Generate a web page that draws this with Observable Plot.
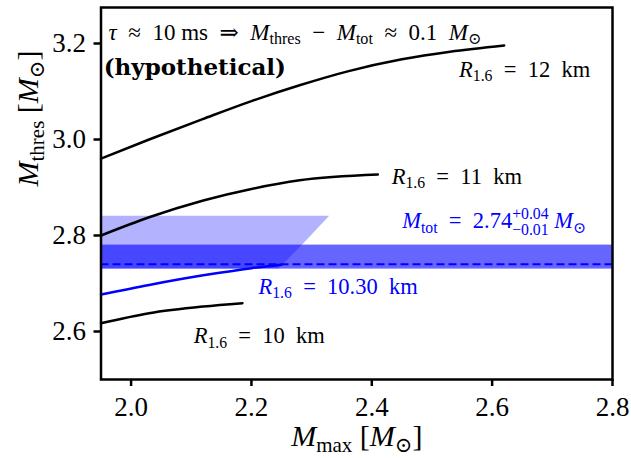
<!DOCTYPE html>
<html><head><meta charset="utf-8">
<script src="https://cdn.jsdelivr.net/npm/d3@7"></script>
<script src="https://cdn.jsdelivr.net/npm/@observablehq/plot@0.6"></script>
<style>
html,body{margin:0;padding:0;background:#fff;}
svg g[aria-label$="axis tick"] path{stroke-width:2.5px;}
</style>
</head><body><div id="chart"></div>
<script>
// ---- data ----
const xDomain = [1.95, 2.8];
const yDomain = [2.5, 3.275];
const xTicks = [2.0, 2.2, 2.4, 2.6, 2.8];
const yTicks = [2.6, 2.8, 3.0, 3.2];

const mmaxR12 = [1.95, 2.03, 2.12, 2.20, 2.28, 2.36, 2.45, 2.53, 2.62];
const mthrR12 = [2.960, 3.000, 3.043, 3.080, 3.113, 3.142, 3.167, 3.183, 3.196];
const mmaxR11 = [1.95, 2.03, 2.12, 2.20, 2.28, 2.41];
const mthrR11 = [2.800, 2.838, 2.873, 2.897, 2.915, 2.927];
const mmaxR1030 = [1.95, 2.03, 2.12, 2.20, 2.25];
const mthrR1030 = [2.677, 2.697, 2.717, 2.732, 2.739];
const mmaxR10 = [1.95, 2.03, 2.12, 2.185];
const mthrR10 = [2.617, 2.638, 2.652, 2.659];

const mtot = 2.74, mtotPlus = 0.04, mtotMinus = 0.01;
const hypoY = [2.73, 2.74, 2.783, 2.84];        // hypothetical region, M_tot side
const hypoEdge = [2.245, 2.254, 2.287, 2.330];  // its right edge in M_max

const S = "\u2002"; // en space, mimics TeX math spacing
const titleText = `*τ*${S}≈${S}10 ms${S}⇒${S}*M*_{thres}${S}−${S}*M*_{tot}${S}≈${S}0.1${S}*M*_{⊙}`;
const hypoText = "(hypothetical)";
const labR12 = `*R*_{1.6}${S}=${S}12${S}km`;
const labR11 = `*R*_{1.6}${S}=${S}11${S}km`;
const labR1030 = `*R*_{1.6}${S}=${S}10.30${S}km`;
const labR10 = `*R*_{1.6}${S}=${S}10${S}km`;
const labMtot = `*M*_{tot}${S}=${S}2.74^{+0.04}_{−0.01} *M*_{⊙}`;
const xLabel = "*M*_{max} [*M*_{⊙}]";
const yLabel = "*M*_{thres} [*M*_{⊙}]";

const zip = (xs, ys) => xs.map((x, i) => ({x, y: ys[i]}));
const serif = "'Liberation Serif', 'DejaVu Serif', serif";

const curve = (xs, ys, color) => Plot.line(zip(xs, ys), {x: "x", y: "y", stroke: color, strokeWidth: 2.5, curve: "monotone-x"});
const label = (t, x, y, color, size) => Plot.text([t], {x: () => x, y: () => y, text: d => d, textAnchor: "start", lineAnchor: "bottom", fill: color, fontSize: size, fontFamily: serif});

const chart = Plot.plot({
  width: 631, height: 458,
  marginLeft: 100.5, marginRight: 19, marginTop: 7, marginBottom: 79,
  style: {fontFamily: serif, fontSize: "27px", color: "black", background: "white"},
  x: {domain: xDomain, ticks: xTicks, tickFormat: d3.format(".1f"), tickSize: 7, tickPadding: 10, label: null},
  y: {domain: yDomain, ticks: yTicks, tickFormat: d3.format(".1f"), tickSize: 7, tickPadding: 8, label: null},
  marks: [
    Plot.areaX(zip(hypoEdge, hypoY), {y: "y", x1: () => xDomain[0], x2: "x", fill: "blue", fillOpacity: 0.3}),
    Plot.rect([0], {x1: () => xDomain[0], x2: () => xDomain[1], y1: () => mtot - mtotMinus, y2: () => mtot + mtotPlus, fill: "blue", fillOpacity: 0.6}),
    Plot.ruleY([mtot], {stroke: "blue", strokeWidth: 2, strokeDasharray: "8,4"}),
    curve(mmaxR12, mthrR12, "black"),
    curve(mmaxR11, mthrR11, "black"),
    curve(mmaxR10, mthrR10, "black"),
    curve(mmaxR1030, mthrR1030, "blue"),
    label(titleText, 1.9625, 3.208, "black", 23),
    Plot.text([hypoText], {x: () => 1.9545, y: () => 3.135, text: d => d, textAnchor: "start", lineAnchor: "bottom", fontSize: 23, fontWeight: "bold", fontFamily: "'DejaVu Serif', serif"}),
    label(labR12, 2.545, 3.131, "black", 22.5),
    label(labR11, 2.433, 2.908, "black", 22.5),
    label(labMtot, 2.4505, 2.815, "blue", 22.5),
    label(labR1030, 2.2117, 2.679, "blue", 22.5),
    label(labR10, 2.104, 2.5756, "black", 22.5),
    Plot.text([xLabel], {frameAnchor: "bottom", dy: 66, text: d => d, lineAnchor: "bottom", fontSize: 30, fontFamily: serif}),
    Plot.text([yLabel], {frameAnchor: "left", dx: -63, dy: -7, rotate: -90, text: d => d, lineAnchor: "bottom", fontSize: 30, fontFamily: serif}),
    Plot.frame({stroke: "black", strokeWidth: 2.5})
  ]
});
document.getElementById("chart").appendChild(chart);

// ---- rich text (italics, sub/superscripts) ----
const NS = "http://www.w3.org/2000/svg";
function parseMarkup(s) {
  const segs = []; let i = 0, italic = false, buf = "";
  const flush = () => { if (buf) segs.push({text: buf, italic, shift: null}); buf = ""; };
  while (i < s.length) {
    const c = s[i];
    if (c === "*") { flush(); italic = !italic; i++; }
    else if ((c === "_" || c === "^") && s[i + 1] === "{") {
      flush();
      const j = s.indexOf("}", i);
      segs.push({text: s.slice(i + 2, j), italic: false, shift: c === "_" ? "sub" : "sup"});
      i = j + 1;
    } else { buf += c; i++; }
  }
  flush();
  return segs;
}
function richText(el) {
  const s = el.textContent;
  if (!/[*_^]/.test(s)) return;
  const segs = parseMarkup(s);
  while (el.firstChild) el.removeChild(el.firstChild);
  const fs = parseFloat(getComputedStyle(el).fontSize);
  let cur = 0, prev = null, stackPair = null;
  segs.forEach(seg => {
    const t = document.createElementNS(NS, "tspan");
    t.textContent = seg.text;
    let target = 0;
    const stacked = seg.shift === "sub" && prev && prev.shift === "sup";
    if (seg.shift === "sub") target = stacked ? 0.30 * fs : 0.2 * fs;
    else if (seg.shift === "sup") target = -0.42 * fs;
    if (target - cur !== 0) t.setAttribute("dy", target - cur);
    cur = target;
    if (seg.shift) t.setAttribute("font-size", 0.7 * fs);
    if (seg.italic) t.setAttribute("font-style", "italic");
    if (stacked) t.setAttribute("dx", -prev.width);
    if (stackPair) {
      const extra = Math.max(0, stackPair[0].width - stackPair[1].width);
      if (extra) t.setAttribute("dx", extra);
      stackPair = null;
    }
    el.appendChild(t);
    seg.width = t.getComputedTextLength();
    if (stacked) stackPair = [prev, seg];
    prev = seg;
  });
}
chart.querySelectorAll("text").forEach(richText);
</script>
</body></html>
